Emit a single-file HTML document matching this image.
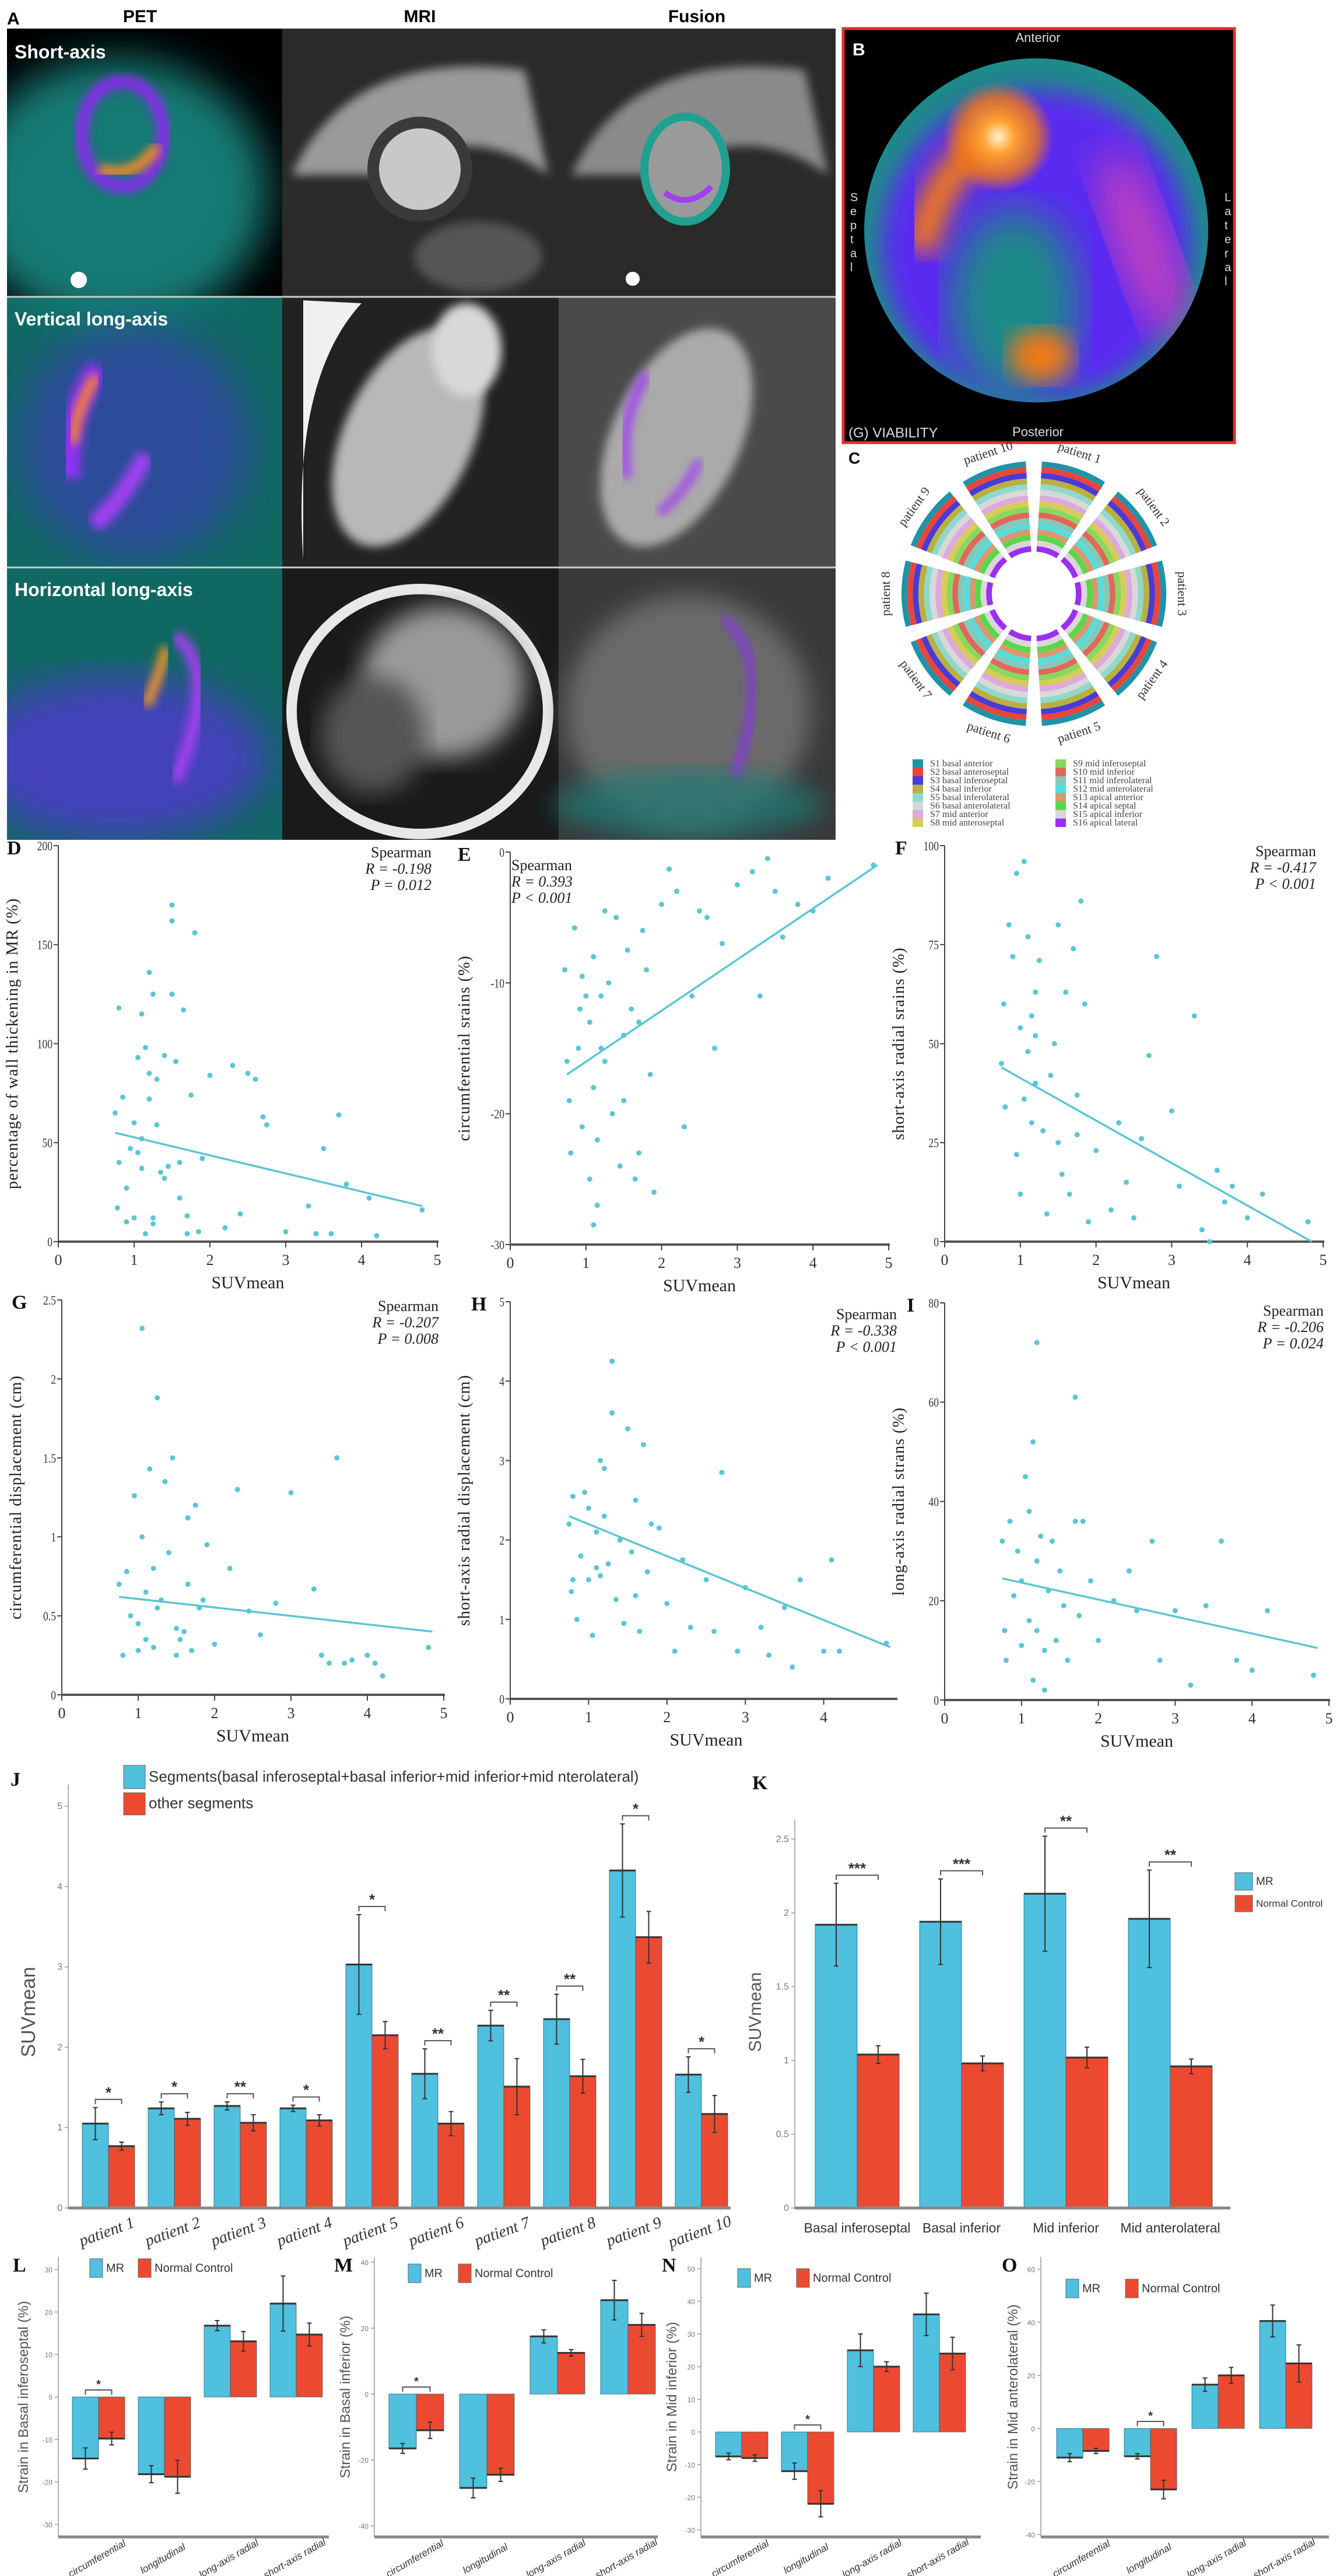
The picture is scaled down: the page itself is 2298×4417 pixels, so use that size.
<!DOCTYPE html>
<html><head><meta charset="utf-8">
<style>
html,body{margin:0;padding:0;background:#fff;}
svg{display:block;}
.ser{font-family:"Liberation Serif",serif;}
.san{font-family:"Liberation Sans",sans-serif;}
.nar{font-family:"Liberation Sans Narrow","Liberation Sans",sans-serif;}
</style></head>
<body>
<svg id="fig" width="2298" height="4417" viewBox="0 0 2298 4417" xmlns="http://www.w3.org/2000/svg">
<defs>
<filter id="bl8"><feGaussianBlur stdDeviation="8"/></filter>
<filter id="bl20"><feGaussianBlur stdDeviation="20"/></filter>
<filter id="bl35"><feGaussianBlur stdDeviation="35"/></filter>
<radialGradient id="hot"><stop offset="0" stop-color="#fff3d0"/><stop offset="0.3" stop-color="#ffa030"/><stop offset="0.7" stop-color="#f07818" stop-opacity="0.8"/><stop offset="1" stop-color="#f07818" stop-opacity="0"/></radialGradient>
<clipPath id="diskclip"><circle cx="1777" cy="395" r="295"/></clipPath>
<clipPath id="gridclip"><rect x="12" y="49" width="1421" height="1391"/></clipPath>
</defs>

<!-- PANEL A -->
<g>
<text x="12" y="42" class="san" font-size="30" font-weight="bold">A</text>
<text x="240" y="38" class="san" font-size="30" font-weight="bold" text-anchor="middle">PET</text>
<text x="720" y="38" class="san" font-size="30" font-weight="bold" text-anchor="middle">MRI</text>
<text x="1195" y="38" class="san" font-size="30" font-weight="bold" text-anchor="middle">Fusion</text>
<g clip-path="url(#gridclip)">
<rect x="12" y="49" width="1421" height="1391" fill="#000"/>
<g>
 <ellipse cx="200" cy="330" rx="260" ry="230" fill="#137a74" filter="url(#bl35)"/>
 <ellipse cx="210" cy="230" rx="70" ry="90" fill="none" stroke="#8a2cf0" stroke-width="22" filter="url(#bl8)"/>
 <path d="M170 290 Q230 310 270 250" stroke="#ff8a20" stroke-width="18" fill="none" filter="url(#bl8)"/>
 <circle cx="135" cy="480" r="14" fill="#fff"/>
 <rect x="12" y="509" width="472" height="464" fill="#137a74" opacity="0.85"/>
 <ellipse cx="230" cy="760" rx="200" ry="200" fill="#4a30d0" opacity="0.5" filter="url(#bl35)"/>
 <path d="M170 630 Q110 720 120 820" stroke="#9030f0" stroke-width="40" fill="none" filter="url(#bl8)"/>
 <path d="M165 645 Q130 700 125 760" stroke="#ff8a20" stroke-width="16" fill="none" filter="url(#bl8)"/>
 <path d="M250 780 Q210 860 160 900" stroke="#a040f0" stroke-width="30" fill="none" filter="url(#bl8)"/>
 <rect x="12" y="973" width="472" height="467" fill="#137a74" opacity="0.85"/>
 <ellipse cx="200" cy="1300" rx="260" ry="140" fill="#5a30e0" opacity="0.7" filter="url(#bl35)"/>
 <path d="M300 1090 Q380 1150 300 1340" stroke="#a040f0" stroke-width="22" fill="none" filter="url(#bl8)"/>
 <path d="M285 1110 Q270 1170 250 1210" stroke="#ff9a20" stroke-width="16" fill="none" filter="url(#bl8)"/>
</g>
<g>
 <rect x="484" y="49" width="474" height="460" fill="#2a2a2a"/>
 <path d="M500 300 Q600 80 900 120 L940 300 Q800 200 650 300 Z" fill="#9a9a9a" filter="url(#bl8)"/>
 <circle cx="720" cy="290" r="80" fill="#c8c8c8" stroke="#3a3a3a" stroke-width="20"/>
 <ellipse cx="820" cy="440" rx="110" ry="60" fill="#555" filter="url(#bl8)"/>
 <rect x="484" y="509" width="474" height="464" fill="#222"/>
 <path d="M520 960 Q500 650 620 520 L520 515 Z" fill="#f0f0f0"/>
 <ellipse cx="700" cy="750" rx="110" ry="200" fill="#b8b8b8" transform="rotate(25 700 750)" filter="url(#bl8)"/>
 <ellipse cx="800" cy="600" rx="60" ry="80" fill="#d8d8d8" filter="url(#bl8)"/>
 <rect x="484" y="973" width="474" height="467" fill="#1a1a1a"/>
 <ellipse cx="720" cy="1220" rx="220" ry="210" fill="none" stroke="#e8e8e8" stroke-width="18"/>
 <ellipse cx="760" cy="1170" rx="140" ry="130" fill="#9a9a9a" filter="url(#bl20)"/>
 <ellipse cx="640" cy="1260" rx="90" ry="100" fill="#555" filter="url(#bl20)"/>
</g>
<g>
 <rect x="958" y="49" width="475" height="460" fill="#2a2a2a"/>
 <path d="M980 300 Q1080 80 1380 120 L1420 300 Q1280 200 1130 300 Z" fill="#8a8a8a" filter="url(#bl8)"/>
 <ellipse cx="1175" cy="290" rx="70" ry="90" fill="#9a9a9a" stroke="#20a090" stroke-width="14"/>
 <path d="M1140 330 Q1180 360 1220 320" stroke="#a040f0" stroke-width="10" fill="none"/>
 <circle cx="1085" cy="478" r="12" fill="#fff"/>
 <rect x="958" y="509" width="475" height="464" fill="#4a4a4a"/>
 <ellipse cx="1160" cy="750" rx="110" ry="200" fill="#aaa" transform="rotate(25 1160 750)" filter="url(#bl8)"/>
 <path d="M1110 640 Q1060 720 1075 820" stroke="#a040f0" stroke-width="16" fill="none" filter="url(#bl8)"/>
 <path d="M1200 790 Q1170 850 1130 880" stroke="#a040f0" stroke-width="14" fill="none" filter="url(#bl8)"/>
 <rect x="958" y="973" width="475" height="467" fill="#3a3a3a"/>
 <ellipse cx="1180" cy="1220" rx="210" ry="200" fill="#6a6a6a" filter="url(#bl20)"/>
 <ellipse cx="1180" cy="1380" rx="230" ry="60" fill="#1a7a74" opacity="0.7" filter="url(#bl20)"/>
 <path d="M1240 1060 Q1330 1130 1260 1330" stroke="#8a30f0" stroke-width="12" fill="none" filter="url(#bl8)"/>
</g>
</g>
<line x1="12" y1="509" x2="1433" y2="509" stroke="#ccc" stroke-width="3"/>
<line x1="12" y1="973" x2="1433" y2="973" stroke="#ccc" stroke-width="3"/>
<text x="25" y="100" class="san" font-size="32" font-weight="bold" fill="#fff">Short-axis</text>
<text x="25" y="558" class="san" font-size="32" font-weight="bold" fill="#fff">Vertical long-axis</text>
<text x="25" y="1022" class="san" font-size="32" font-weight="bold" fill="#fff">Horizontal long-axis</text>
</g>

<!-- PANEL B -->
<g>
<rect x="1446" y="49" width="671" height="710" fill="#000" stroke="#e03030" stroke-width="5"/>
<circle cx="1777" cy="395" r="295" fill="#1e8a8a"/>
<g clip-path="url(#diskclip)">
 <circle cx="1777" cy="420" r="265" fill="#5a2cf0" filter="url(#bl20)"/>
 <ellipse cx="1740" cy="520" rx="110" ry="160" fill="#1a8a88" filter="url(#bl35)"/>
 <ellipse cx="1960" cy="420" rx="50" ry="170" fill="#c040c0" transform="rotate(-20 1960 420)" filter="url(#bl35)"/>
 <path d="M1700 240 Q1600 300 1580 430" stroke="#f07818" stroke-width="55" fill="none" filter="url(#bl20)"/>
 <circle cx="1712" cy="235" r="95" fill="url(#hot)"/>
 <ellipse cx="1785" cy="610" rx="55" ry="45" fill="#f07818" filter="url(#bl20)"/>
</g>
<text x="1462" y="95" class="san" font-size="30" font-weight="bold" fill="#fff">B</text>
<text x="1780" y="72" class="san" font-size="22" fill="#ddd" text-anchor="middle">Anterior</text>
<text x="1780" y="748" class="san" font-size="22" fill="#ddd" text-anchor="middle">Posterior</text>
<text x="1455" y="750" class="san" font-size="24" fill="#ddd">(G) VIABILITY</text>
<text x="1458" y="345" class="san" font-size="20" fill="#ddd"><tspan x="1458" dy="0">S</tspan><tspan x="1458" dy="24">e</tspan><tspan x="1458" dy="24">p</tspan><tspan x="1458" dy="24">t</tspan><tspan x="1458" dy="24">a</tspan><tspan x="1458" dy="24">l</tspan></text>
<text x="2100" y="345" class="san" font-size="20" fill="#ddd"><tspan x="2100" dy="0">L</tspan><tspan x="2100" dy="24">a</tspan><tspan x="2100" dy="24">t</tspan><tspan x="2100" dy="24">e</tspan><tspan x="2100" dy="24">r</tspan><tspan x="2100" dy="24">a</tspan><tspan x="2100" dy="24">l</tspan></text>
</g>

<!-- PANEL C -->
<g id="panelC">
<text x="1455" y="795" class="san" font-size="28" font-weight="bold">C</text>
</g>

<g id="charts"></g>
</svg>

<script>
var segColors = ['#1f93a8','#e8463a','#4a3ad8','#b8b040','#8fd8cc','#d8d8d8','#dcaadc','#d8cc58','#88d860','#e0685a','#86c8b8','#56dcdc','#d89870','#58d848','#dcd4dc','#9a30ef'];
var segNames = ['S1 basal anterior','S2 basal anteroseptal','S3 basal inferoseptal','S4 basal inferior','S5 basal inferolateral','S6 basal anterolateral','S7 mid anterior','S8 mid anteroseptal','S9 mid inferoseptal','S10 mid inferior','S11 mid inferolateral','S12 mid anterolateral','S13 apical anterior','S14 apical septal','S15 apical inferior','S16 apical lateral'];
var patientNames = ['patient 1','patient 2','patient 3','patient 4','patient 5','patient 6','patient 7','patient 8','patient 9','patient 10'];

var dX = [0.75,0.78,0.8,0.85,0.9,0.95,1.0,1.0,1.05,1.1,1.1,1.15,1.15,1.2,1.2,1.25,1.25,1.3,1.3,1.35,1.4,1.45,1.5,1.5,1.55,1.6,1.65,1.7,1.75,1.8,1.85,1.9,2.0,2.2,2.3,2.4,2.5,2.6,2.7,2.75,3.0,3.3,3.4,3.5,3.6,3.7,3.8,4.1,4.2,4.8,0.9,1.05,1.2,1.4,1.7,1.5,1.1,0.8,1.25,1.6];
var dY = [65,17,118,73,27,47,60,12,93,115,37,98,4,136,72,125,12,59,82,35,32,38,162,125,91,40,117,13,74,156,5,42,84,7,89,14,85,82,63,59,5,18,4,47,4,64,29,22,3,16,10,45,85,94,4,170,52,40,9,22];
var dFitX = [0.75,4.8], dFitY = [55,18];
var dTicksY = [0,50,100,150,200];
var dStats = ['Spearman','R = -0.198','P = 0.012'];
var eX = [0.72,0.75,0.78,0.8,0.85,0.9,0.92,0.95,1.0,1.05,1.05,1.1,1.1,1.15,1.15,1.2,1.2,1.25,1.3,1.35,1.4,1.45,1.5,1.55,1.6,1.65,1.7,1.75,1.8,1.85,1.9,2.0,2.1,2.2,2.3,2.4,2.5,2.6,2.7,2.8,3.0,3.2,3.3,3.4,3.5,3.6,3.8,4.0,4.2,4.8,1.1,1.25,1.5,1.7,0.95];
var eY = [-9,-16,-19,-23,-5.8,-15,-12,-21,-11,-13,-25,-8,-18,-27,-22,-15,-11,-4.5,-10,-20,-5,-24,-14,-7.5,-12,-25,-23,-6,-9,-17,-26,-4,-1.3,-3,-21,-11,-4.5,-5,-15,-7,-2.5,-1.5,-11,-0.5,-3,-6.5,-4,-4.5,-2,-1,-28.5,-16,-19,-13,-9.5];
var eFitX = [0.75,4.85], eFitY = [-17,-1];
var eTicksY = [-30,-20,-10,0];
var eStats = ['Spearman','R = 0.393','P < 0.001'];
var fX = [0.75,0.78,0.8,0.85,0.9,0.95,0.95,1.0,1.0,1.05,1.1,1.1,1.15,1.15,1.2,1.2,1.25,1.3,1.35,1.4,1.45,1.5,1.55,1.6,1.65,1.7,1.75,1.8,1.85,1.9,2.0,2.2,2.3,2.4,2.5,2.6,2.7,2.8,3.0,3.1,3.3,3.4,3.5,3.6,3.7,3.8,4.0,4.2,4.8,1.05,1.2,1.5,1.75];
var fY = [45,60,34,80,72,93,22,54,12,36,77,48,57,30,52,63,71,28,7,42,50,80,17,63,12,74,37,86,60,5,23,8,30,15,6,26,47,72,33,14,57,3,0,18,10,14,6,12,5,96,40,25,27];
var fFitX = [0.75,4.85], fFitY = [44,0];
var fTicksY = [0,25,50,75,100];
var fStats = ['Spearman','R = -0.417','P < 0.001'];
var gX = [0.75,0.8,0.85,0.9,0.95,1.0,1.0,1.05,1.1,1.1,1.15,1.2,1.2,1.25,1.3,1.35,1.4,1.45,1.5,1.55,1.6,1.65,1.7,1.75,1.8,1.85,1.9,2.0,2.2,2.3,2.45,2.6,2.8,3.0,3.3,3.4,3.5,3.6,3.7,3.8,4.0,4.1,4.2,4.8,1.05,1.25,1.5,1.65];
var gY = [0.7,0.25,0.78,0.5,1.26,0.45,0.28,1.0,0.65,0.35,1.43,0.8,0.3,0.55,0.6,1.35,0.9,1.5,0.25,0.35,0.4,1.12,0.28,1.2,0.55,0.6,0.95,0.32,0.8,1.3,0.53,0.38,0.58,1.28,0.67,0.25,0.2,1.5,0.2,0.22,0.25,0.2,0.12,0.3,2.32,1.88,0.42,0.7];
var gFitX = [0.75,4.85], gFitY = [0.62,0.40];
var gTicksY = [0,0.5,1,1.5,2,2.5];
var gStats = ['Spearman','R = -0.207','P = 0.008'];
var hX = [0.75,0.78,0.8,0.85,0.9,0.95,1.0,1.0,1.05,1.1,1.1,1.15,1.15,1.2,1.2,1.25,1.3,1.35,1.4,1.45,1.5,1.55,1.6,1.65,1.7,1.75,1.8,1.9,2.0,2.1,2.2,2.3,2.5,2.6,2.7,2.9,3.0,3.2,3.3,3.5,3.6,3.7,4.0,4.1,4.2,4.8,0.8,1.3,1.6];
var hY = [2.2,1.35,2.55,1.0,1.8,2.6,1.5,2.4,0.8,2.1,1.65,3.0,1.55,2.9,2.3,1.7,3.6,1.25,2.0,0.95,3.4,1.85,2.5,0.85,3.2,1.6,2.2,2.15,1.2,0.6,1.75,0.9,1.5,0.85,2.85,0.6,1.4,0.9,0.55,1.15,0.4,1.5,0.6,1.75,0.6,0.7,1.5,4.25,1.3];
var hFitX = [0.75,4.85], hFitY = [2.3,0.65];
var hTicksY = [0,1,2,3,4,5];
var hStats = ['Spearman','R = -0.338','P < 0.001'];
var iX = [0.75,0.78,0.8,0.85,0.9,0.95,1.0,1.0,1.05,1.1,1.1,1.15,1.2,1.2,1.25,1.3,1.35,1.4,1.45,1.5,1.55,1.6,1.7,1.75,1.8,1.9,2.0,2.2,2.4,2.5,2.7,2.8,3.0,3.2,3.4,3.6,3.8,4.0,4.2,4.8,1.2,1.7,1.15,1.3];
var iY = [32,14,8,36,21,30,11,24,45,16,38,4,28,14,33,10,22,32,12,26,19,8,36,17,36,24,12,20,26,18,32,8,18,3,19,32,8,6,18,5,72,61,52,2];
var iFitX = [0.75,4.85], iFitY = [24.5,10.5];
var iTicksY = [0,20,40,60,80];
var iStats = ['Spearman','R = -0.206','P = 0.024'];
var xTicks = [0,1,2,3,4,5];

var jCats = patientNames;
var jSeg = [1.05,1.24,1.27,1.24,3.03,1.67,2.27,2.35,4.2,1.66];
var jSegErr = [0.2,0.08,0.05,0.04,0.62,0.31,0.19,0.31,0.58,0.22];
var jOther = [0.77,1.11,1.06,1.09,2.15,1.05,1.51,1.64,3.37,1.17];
var jOtherErr = [0.05,0.08,0.1,0.07,0.17,0.15,0.35,0.21,0.32,0.23];
var jSig = ['*','*','**','*','*','**','**','**','*','*'];
var jTicks = [0,1,2,3,4,5];
var kCats = ['Basal inferoseptal','Basal inferior','Mid inferior','Mid anterolateral'];
var kMR = [1.92,1.94,2.13,1.96];
var kMRErr = [0.28,0.29,0.39,0.33];
var kNC = [1.04,0.98,1.02,0.96];
var kNCErr = [0.06,0.05,0.07,0.05];
var kSig = ['***','***','**','**'];
var kTicks = [0,0.5,1,1.5,2,2.5];
var strainCats = ['circumferential','longitudinal','long-axis radial','short-axis radial'];
var lMR = [-14.5,-18.2,16.8,22], lMRErr = [2.5,2,1.2,6.5], lNC = [-9.8,-18.8,13.1,14.7], lNCErr = [1.5,3.9,2.3,2.7], lSig = ['*','','',''];
var lTicks = [-30,-20,-10,0,10,20,30];
var mMR = [-16.5,-28.5,17.5,28.5], mMRErr = [1.5,3,2,6], mNC = [-11,-24.5,12.5,21], mNCErr = [2.5,2,1,3.5], mSig = ['*','','',''];
var mTicks = [-40,-20,0,20,40];
var nMR = [-7.5,-12,25,36], nMRErr = [1,2.5,5,6.5], nNC = [-8,-22,20,24], nNCErr = [1,4,1.5,5], nSig = ['','*','',''];
var nTicks = [-30,-20,-10,0,10,20,30,40,50];
var oMR = [-11,-10.5,16.5,40.5], oMRErr = [1.5,1,2.5,6], oNC = [-8.5,-23,20,24.5], oNCErr = [1,3.5,3,7], oSig = ['','*','',''];
var oTicks = [-40,-20,0,20,40,60];

var NS = 'http://www.w3.org/2000/svg';
var root = document.getElementById('charts');
function mk(tag, attrs, parent){
  var e = document.createElementNS(NS, tag);
  for (var k in attrs) e.setAttribute(k, attrs[k]);
  (parent || root).appendChild(e);
  return e;
}
function txt(s, attrs, parent){ var t = mk('text', attrs, parent); t.textContent = s; return t; }
var BLUE = '#4fc0de', RED = '#ec4a30', SC = '#5cc6d3';

(function(){
  var pc = document.getElementById('panelC');
  var cx = 1773, cy = 1018, rOut = 227, rIn = 72, n = segColors.length;
  var rw = (rOut - rIn) / n;
  function arc(r0, r1, a0, a1){
    function pt(r,a){ var rad=(a-90)*Math.PI/180; return [cx+r*Math.cos(rad), cy+r*Math.sin(rad)]; }
    var p1=pt(r1,a0),p2=pt(r1,a1),p3=pt(r0,a1),p4=pt(r0,a0);
    return 'M'+p1+' A'+r1+' '+r1+' 0 0 1 '+p2+' L'+p3+' A'+r0+' '+r0+' 0 0 0 '+p4+' Z';
  }
  for (var p = 0; p < patientNames.length; p++){
    var a0 = p*36 + 3.5, a1 = p*36 + 32.5;
    var g = mk('g', {}, pc);
    
    
    for (var s = 0; s < n; s++){
      var r1 = rOut - s*rw, r0 = r1 - rw;
      var w = mk('path', {d: arc(r0, r1, a0, a1), fill: segColors[s]}, g);
      
      
    }
    var am = (p*36 + 18), rad = (am-90)*Math.PI/180;
    var lx = cx + 252*Math.cos(rad), ly = cy + 252*Math.sin(rad);
    var rot = am; if (am > 90 && am < 270) rot = am - 180;
    var t = txt(patientNames[p], {x: lx, y: ly, 'class':'ser', 'font-size':22, 'text-anchor':'middle', 'dominant-baseline':'middle', fill:'#333', transform:'rotate('+rot+' '+lx+' '+ly+')'}, pc);
    
    
  }
  for (var i = 0; i < segNames.length; i++){
    var col = i < 8 ? 0 : 1, row = i % 8;
    var sx = col ? 1810 : 1565, sy = 1302 + row*14.5;
    var sw = mk('rect', {x: sx, y: sy, width: 18, height: 14.5, fill: segColors[i]}, pc);
    
    
    var lt = txt(segNames[i], {x: sx+30, y: sy+12, 'class':'ser', 'font-size':16, fill:'#444'}, pc);
    
    
  }
})();

function scatter(o){
  var g = mk('g', {});
  
  
  var sx = function(v){ return o.xl + v/5*(o.xr - o.xl); };
  var sy = function(v){ return o.yb - (v - o.ymin)/(o.ymax - o.ymin)*(o.yb - o.yt); };
  var ya = mk('line', {x1:o.xl, y1:o.yt, x2:o.xl, y2:o.yb, stroke:'#444', 'stroke-width':2}, g);
  
  
  var xa = mk('line', {x1:o.xl, y1:o.yb, x2:o.xend, y2:o.yb, stroke:'#555', 'stroke-width':4}, g);
  
  
  o.ticksY.forEach(function(v){
    var y = sy(v);
    mk('line', {x1:o.xl-8, y1:y, x2:o.xl, y2:y, stroke:'#444', 'stroke-width':2}, g);
    var t = txt(String(v), {x:(o.xl-10)/0.8, y:y+8, 'class':'ser', 'font-size':22, 'text-anchor':'end', fill:'#333', transform:'scale(0.8,1)'}, g);
    
    
  });
  o.ticksX.forEach(function(v){
    var x = sx(v);
    mk('line', {x1:x, y1:o.yb, x2:x, y2:o.yb+10, stroke:'#444', 'stroke-width':2}, g);
    var t = txt(String(v), {x:x, y:o.yb+40, 'class':'ser', 'font-size':26, 'text-anchor':'middle', fill:'#333'}, g);
    
    
  });
  var xt = txt('SUVmean', {x:(o.xl+o.xr)/2, y:o.yb+80, 'class':'ser', 'font-size':30, 'text-anchor':'middle', fill:'#222'}, g);
  
  
  var yx = o.xl - 70, ym = (o.yt + o.yb)/2;
  var yt = txt(o.ytitle, {x:yx, y:ym, 'class':'ser', 'font-size':28, 'text-anchor':'middle', fill:'#222', transform:'rotate(-90 '+yx+' '+ym+')', 'letter-spacing':1}, g);
  
  
  var pl = txt(o.label, {x:o.lx, y:o.yt+15, 'class':'ser', 'font-size':34, 'font-weight':'bold', fill:'#111'}, g);
  
  
  for (var i = 0; i < o.xs.length; i++){
    var c = mk('circle', {cx:sx(o.xs[i]), cy:sy(o.ys[i]), r:4.5, fill:SC}, g);
    
    
  }
  var fl = mk('line', {x1:sx(o.fx[0]), y1:sy(o.fy[0]), x2:sx(o.fx[1]), y2:sy(o.fy[1]), stroke:SC, 'stroke-width':3.5}, g);
  
  
  for (var k = 0; k < o.stats.length; k++){
    var st = txt(o.stats[k], {x:o.sx, y:o.sy + k*28, 'class':'ser', 'font-size':26, 'text-anchor':o.sa, fill:'#222', 'font-style': k ? 'italic' : 'normal'}, g);
    
    
  }
}
scatter({name:'scatter-d', label:'D', lx:12, xl:100, xr:750, xend:752, yt:1450, yb:2129, ymin:0, ymax:200, ticksY:dTicksY, ticksX:xTicks, xs:dX, ys:dY, fx:dFitX, fy:dFitY, ytitle:'percentage of wall thickening in MR (%)', stats:dStats, sx:740, sy:1470, sa:'end'});
scatter({name:'scatter-e', label:'E', lx:785, xl:875, xr:1524, xend:1526, yt:1461, yb:2134, ymin:-30, ymax:0, ticksY:eTicksY, ticksX:xTicks, xs:eX, ys:eY, fx:eFitX, fy:eFitY, ytitle:'circumferential srains (%)', stats:eStats, sx:877, sy:1492, sa:'start'});
scatter({name:'scatter-f', label:'F', lx:1535, xl:1620, xr:2269, xend:2271, yt:1450, yb:2129, ymin:0, ymax:100, ticksY:fTicksY, ticksX:xTicks, xs:fX, ys:fY, fx:fFitX, fy:fFitY, ytitle:'short-axis radial srains (%)', stats:fStats, sx:2257, sy:1468, sa:'end'});
scatter({name:'scatter-g', label:'G', lx:20, xl:106, xr:761, xend:763, yt:2229, yb:2906, ymin:0, ymax:2.5, ticksY:gTicksY, ticksX:xTicks, xs:gX, ys:gY, fx:gFitX, fy:gFitY, ytitle:'circumferential displacement (cm)', stats:gStats, sx:752, sy:2248, sa:'end'});
scatter({name:'scatter-h', label:'H', lx:808, xl:875, xr:1547, xend:1539, yt:2232, yb:2913, ymin:0, ymax:5, ticksY:hTicksY, ticksX:[0,1,2,3,4], xs:hX, ys:hY, fx:hFitX, fy:hFitY, ytitle:'short-axis radial displacement (cm)', stats:hStats, sx:1538, sy:2262, sa:'end'});
scatter({name:'scatter-i', label:'I', lx:1555, xl:1620, xr:2279, xend:2281, yt:2234, yb:2915, ymin:0, ymax:80, ticksY:iTicksY, ticksX:xTicks, xs:iX, ys:iY, fx:iFitX, fy:iFitY, ytitle:'long-axis radial strans (%)', stats:iStats, sx:2270, sy:2256, sa:'end'});

function bars(o){
  var g = mk('g', {});
  
  
  var sy = function(v){ return o.y0 - v*o.k; };
  var ya = mk('line', {x1:o.xl, y1:o.yt, x2:o.xl, y2:o.axisY, stroke:'#999', 'stroke-width':1.5}, g);
  
  
  o.ticks.forEach(function(v){
    var y = sy(v);
    mk('line', {x1:o.xl-6, y1:y, x2:o.xl, y2:y, stroke:'#999', 'stroke-width':1.5}, g);
    var t = txt(String(v), {x:o.xl-10, y:y+5, 'class':'san', 'font-size':o.tfs, 'text-anchor':'end', fill:'#777'}, g);
    
    
  });
  for (var i = 0; i < o.cats.length; i++){
    var c = o.c0 + i*o.sp;
    var vals = [o.a[i], o.b[i]], errs = [o.ae[i], o.be[i]], cols = [BLUE, RED];
    var tops = [];
    for (var j = 0; j < 2; j++){
      var x = j ? c : c - o.bw, v = vals[j];
      var y1 = sy(Math.max(v,0)), y2 = sy(Math.min(v,0));
      var b = mk('rect', {x:x, y:y1, width:o.bw, height:y2-y1, fill:cols[j], stroke:'#2a6070', 'stroke-width':0.8}, g);
      
      
      var ey = v >= 0 ? y1 : y2;
      mk('line', {x1:x, y1:ey, x2:x+o.bw, y2:ey, stroke:'#333', 'stroke-width':3}, g);
      var bx = x + o.bw/2, eT = sy(v+errs[j]), eB = sy(v-errs[j]);
      var eb = mk('path', {d:'M'+bx+' '+eT+' V'+eB+' M'+(bx-4)+' '+eT+' H'+(bx+4)+' M'+(bx-4)+' '+eB+' H'+(bx+4), stroke:'#333', 'stroke-width':2, fill:'none'}, g);
      
      
      tops.push(Math.min(eT, eB, y1));
    }
    if (o.sig[i]){
      var top = Math.min(tops[0], tops[1], o.y0) - o.sgap;
      var bk = mk('path', {d:'M'+(c-o.bw/2)+' '+(top+8)+' V'+top+' H'+(c+o.bw/2)+' V'+(top+8), stroke:'#555', 'stroke-width':2, fill:'none'}, g);
      
      
      var st = txt(o.sig[i], {x:c, y:top-3, 'class':'san', 'font-size':o.starfs, 'font-weight':'bold', 'text-anchor':'middle', fill:'#333'}, g);
      
      
    }
    var lx = c, ly = o.labY;
    var ct = txt(o.cats[i], {x:lx, y:ly, 'class':o.labClass, 'font-size':o.labfs, 'font-style':o.labStyle, 'text-anchor':'middle', fill:'#333', transform:'rotate('+o.labRot+' '+lx+' '+ly+')'}, g);
    
    
  }
  var xa = mk('line', {x1:o.xl, y1:o.axisY, x2:o.xr, y2:o.axisY, stroke:'#888', 'stroke-width':5}, g);
  
  
  var yx = o.ytx, ym = o.yty;
  var yt = txt(o.ytitle, {x:yx, y:ym, 'class':'san', 'font-size':o.ytfs, 'text-anchor':'middle', fill:'#555', transform:'rotate(-90 '+yx+' '+ym+')'}, g);
  
  
  var pl = txt(o.label, {x:o.plx, y:o.ply, 'class':'ser', 'font-size':34, 'font-weight':'bold', fill:'#111'}, g);
  
  
  o.legend.forEach(function(L){
    var s = mk('rect', {x:L.x, y:L.y, width:L.w, height:L.h, fill:L.c, stroke:'#666', 'stroke-width':1}, g);
    
    
    var t = txt(L.t, {x:L.x+L.w+6, y:L.y+L.h*0.7, 'class':'nar', 'font-size':L.fs, fill:'#333'}, g);
    
    
  });
}
bars({name:'bar-chart-j', label:'J', plx:18, ply:3062, cats:jCats, a:jSeg, ae:jSegErr, b:jOther, be:jOtherErr, sig:jSig, ticks:jTicks,
  xl:117, xr:1253, yt:3060, axisY:3786, y0:3786, k:137.8, c0:186, sp:113, bw:45, tfs:16, sgap:14, starfs:26,
  labY:3835, labRot:-20, labfs:28, labClass:'ser', labStyle:'italic', ytitle:'SUVmean', ytx:60, yty:3450, ytfs:34,
  legend:[{x:212,y:3027,w:37,h:40,c:BLUE,t:'Segments(basal inferoseptal+basal inferior+mid inferior+mid nterolateral)',fs:26},
          {x:212,y:3074,w:37,h:38,c:RED,t:'other segments',fs:26}]});
bars({name:'bar-chart-k', label:'K', plx:1290, ply:3068, cats:kCats, a:kMR, ae:kMRErr, b:kNC, be:kNCErr, sig:kSig, ticks:kTicks,
  xl:1363, xr:2110, yt:3120, axisY:3786, y0:3786, k:253, c0:1470, sp:179, bw:72, tfs:16, sgap:14, starfs:26,
  labY:3828, labRot:0, labfs:23, labClass:'nar', labStyle:'normal', ytitle:'SUVmean', ytx:1305, yty:3450, ytfs:30,
  legend:[{x:2118,y:3211,w:30,h:30,c:BLUE,t:'MR',fs:19},{x:2118,y:3250,w:30,h:28,c:RED,t:'Normal Control',fs:17}]});
function strain(name, label, plx, mr, mre, nc, nce, sig, ticks, xl, xr, y0, k, c0, sp, bw, ytitle, ytx, lg){
  bars({name:name, label:label, plx:plx, ply:3895, cats:strainCats, a:mr, ae:mre, b:nc, be:nce, sig:sig, ticks:ticks,
    xl:xl, xr:xr, yt:3870, axisY:4350, y0:y0, k:k, c0:c0, sp:sp, bw:bw, tfs:12, sgap:12, starfs:20,
    labY:4392, labRot:-30, labfs:17, labClass:'nar', labStyle:'italic', ytitle:ytitle, ytx:ytx, yty:4110, ytfs:24,
    legend:[{x:lg[0],y:lg[2],w:22,h:32,c:BLUE,t:'MR',fs:20},{x:lg[1],y:lg[2],w:22,h:32,c:RED,t:'Normal Control',fs:20}]});
}
strain('bar-chart-l','L',22,lMR,lMRErr,lNC,lNCErr,lSig,lTicks,100,564,4110,7.28,169,113,45,'Strain in Basal inferoseptal (%)',48,[154,237,3873]);
strain('bar-chart-m','M',573,mMR,mMRErr,mNC,mNCErr,mSig,mTicks,642,1128,4105,5.65,714,121,47,'Strain in Basal inferior (%)',600,[700,786,3882]);
strain('bar-chart-n','N',1135,nMR,nMRErr,nNC,nNCErr,nSig,nTicks,1202,1682,4170,5.6,1272,113,45,'Strain in Mid inferior (%)',1160,[1265,1366,3890]);
strain('bar-chart-o','O',1718,oMR,oMRErr,oNC,oNCErr,oSig,oTicks,1785,2279,4164,4.55,1857,116,45,'Strain in Mid anterolateral (%)',1745,[1828,1930,3908]);
</script>
</body></html>
